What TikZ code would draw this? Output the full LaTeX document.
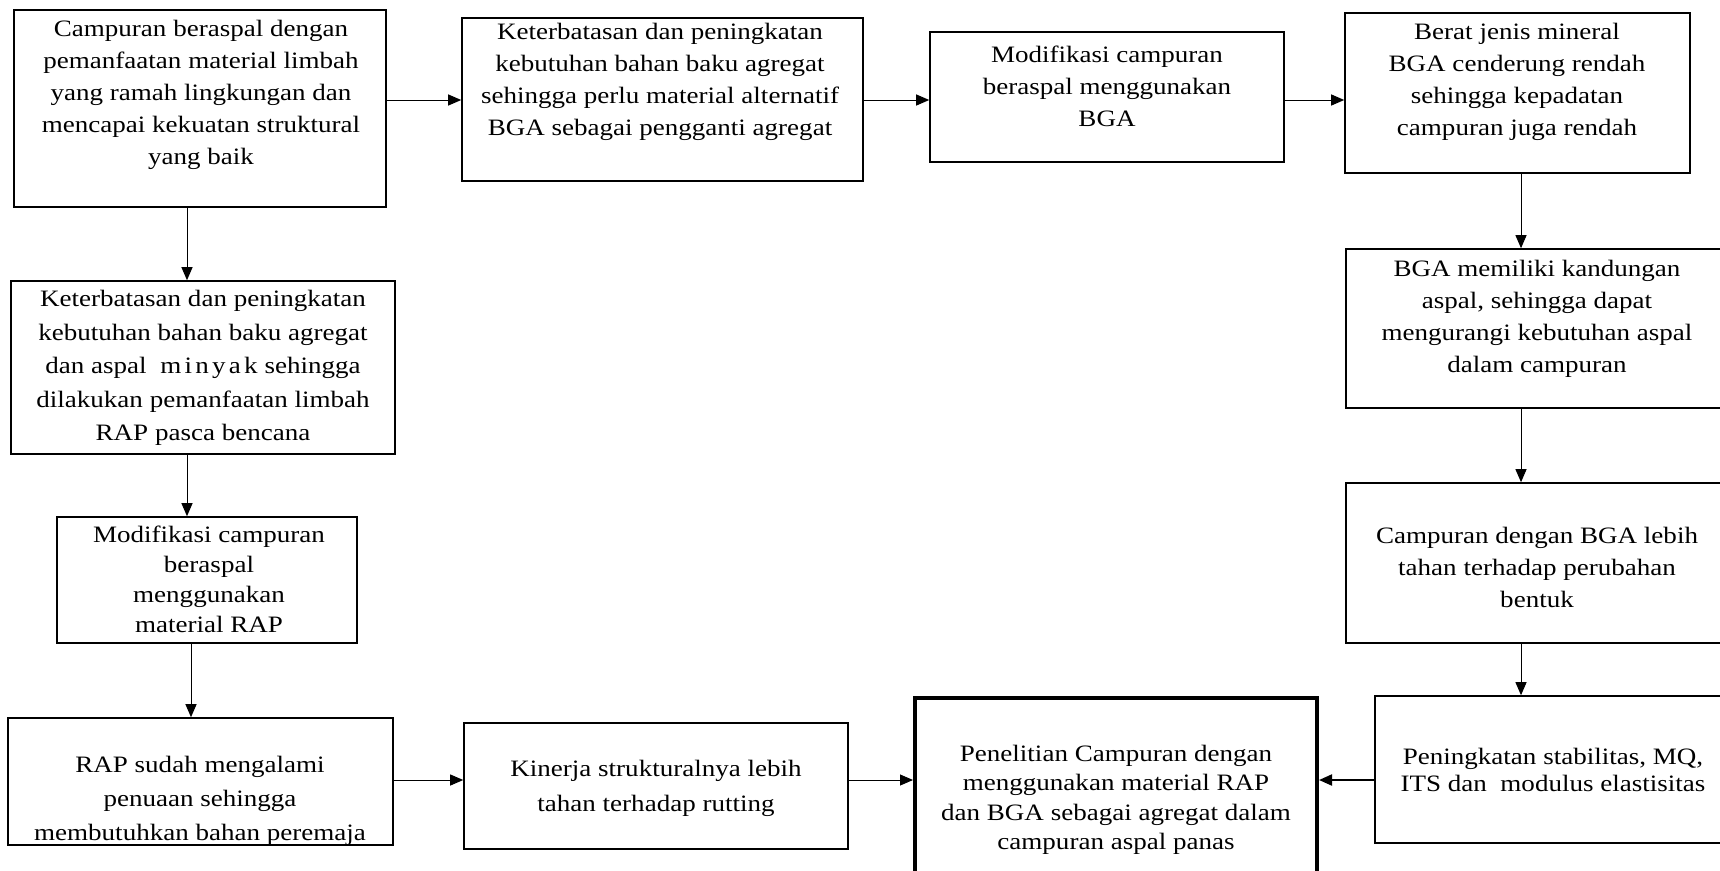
\documentclass[tikz,border=0pt]{standalone}
\usepackage{fontspec}
\setmainfont{Liberation Serif}[FakeStretch=1.15]
\usetikzlibrary{arrows.meta}
\begin{document}
\begin{tikzpicture}[x=1pt,y=-1pt,
  box/.style={draw, line width=1.6pt, rectangle, inner sep=0pt},
  mainbox/.style={draw, line width=4pt, rectangle, inner sep=0pt},
  txt/.style={align=center, inner sep=0pt, font=\fontsize{23.5}{32}\selectfont},
  arr/.style={line width=1pt, -{Triangle[length=13pt,width=11pt]}}]
\useasboundingbox (0,0) rectangle (1720,870);
% boxes
\node[box, minimum width=372pt, minimum height=197pt] (A) at (200,108.5) {};
\node[box, minimum width=401pt, minimum height=163pt] (B) at (662.5,99.5) {};
\node[box, minimum width=354pt, minimum height=130pt] (C) at (1107,97) {};
\node[box, minimum width=345pt, minimum height=160pt] (D) at (1517.5,93) {};
\node[box, minimum width=382pt, minimum height=159pt] (E) at (1537,328.5) {};
\node[box, minimum width=382pt, minimum height=160pt] (L) at (1537,563) {};
\node[box, minimum width=356pt, minimum height=147pt] (K) at (1553,769.5) {};
\node[mainbox, minimum width=402pt, minimum height=187pt] (J) at (1116,791.5) {};
\node[box, minimum width=384pt, minimum height=173pt] (F) at (203,367.5) {};
\node[box, minimum width=300pt, minimum height=126pt] (G) at (207,580) {};
\node[box, minimum width=385pt, minimum height=127pt] (H) at (200.5,781.5) {};
\node[box, minimum width=384pt, minimum height=126pt] (I) at (656,786) {};
% texts
\node[txt] (At) at (201,95) {Campuran beraspal dengan\\pemanfaatan material limbah\\yang ramah lingkungan dan\\mencapai kekuatan struktural\\yang baik};
\node[txt] (Bt) at (660,82) {Keterbatasan dan peningkatan\\kebutuhan bahan baku agregat\\sehingga perlu material alternatif\\BGA sebagai pengganti agregat};
\node[txt] (Ct) at (1107,86) {Modifikasi campuran\\beraspal menggunakan\\BGA};
\node[txt] (Dt) at (1517,82) {Berat jenis mineral\\BGA cenderung rendah\\sehingga kepadatan\\campuran juga rendah};
\node[txt] (Et) at (1537,319) {BGA memiliki kandungan\\aspal, sehingga dapat\\mengurangi kebutuhan aspal\\dalam campuran};
\node[txt] (Lt) at (1537,567) {Campuran dengan BGA lebih\\tahan terhadap perubahan\\bentuk};
\node[txt, font=\fontsize{23.5}{27}\selectfont] (Kt) at (1553,770) {Peningkatan stabilitas, MQ,\\ITS dan\ \ modulus elastisitas};
\node[txt, font=\fontsize{23.5}{29.5}\selectfont] (Jt) at (1116,800) {Penelitian Campuran dengan\\menggunakan material RAP\\dan BGA sebagai agregat dalam\\campuran aspal panas};
\node[txt, font=\fontsize{23.5}{33.5}\selectfont] (Ft) at (203,368) {Keterbatasan dan peningkatan\\kebutuhan bahan baku agregat\\dan aspal\ \ {\addfontfeature{LetterSpace=14}minyak}\ sehingga\\dilakukan pemanfaatan limbah\\RAP pasca bencana};
\node[txt, font=\fontsize{23.5}{30}\selectfont] (Gt) at (209,579) {Modifikasi campuran\\beraspal\\menggunakan\\material RAP};
\node[txt, font=\fontsize{23.5}{34}\selectfont] (Ht) at (200,801) {RAP sudah mengalami\\penuaan sehingga\\membutuhkan bahan peremaja};
\node[txt, font=\fontsize{23.5}{35}\selectfont] (It) at (656,788) {Kinerja strukturalnya lebih\\tahan terhadap rutting};
% connectors
\coordinate (r1) at (0,100);
\coordinate (r3) at (0,780);
\coordinate (c1) at (1521,0);
\coordinate (c2) at (187,0);
\coordinate (c3) at (191,0);
\draw[arr] (A.east |- r1) -- (B.west |- r1);
\draw[arr] (B.east |- r1) -- (C.west |- r1);
\draw[arr] (C.east |- r1) -- (D.west |- r1);
\draw[arr] (D.south -| c1) -- (E.north -| c1);
\draw[arr] (E.south -| c1) -- (L.north -| c1);
\draw[arr] (L.south -| c1) -- (K.north -| c1);
\draw[arr, line width=2pt] (K.west |- r3) -- (J.east |- r3);
\draw[arr] (H.east |- r3) -- (I.west |- r3);
\draw[arr] (I.east |- r3) -- (J.west |- r3);
\draw[arr] (A.south -| c2) -- (F.north -| c2);
\draw[arr] (F.south -| c2) -- (G.north -| c2);
\draw[arr] (G.south -| c3) -- (H.north -| c3);
\end{tikzpicture}
\end{document}
